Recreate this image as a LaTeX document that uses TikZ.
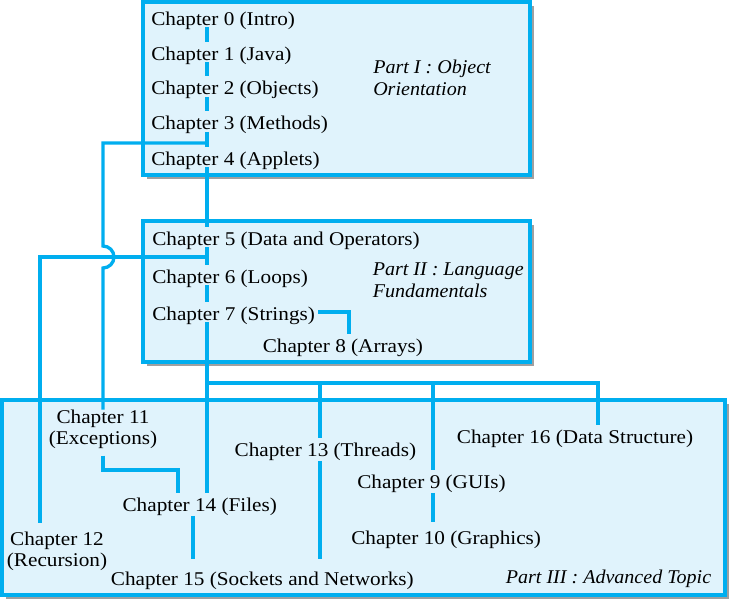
\documentclass[tikz,border=0pt]{standalone}
\usepackage{fontspec}
\setmainfont[FakeStretch=1.09,ItalicFeatures={FakeStretch=1.03}]{Liberation Serif}
\definecolor{cline}{RGB}{0,174,239}
\definecolor{cfill}{RGB}{224,243,252}
\definecolor{cshadow}{RGB}{160,160,160}
\begin{document}
\begin{tikzpicture}[x=0.75pt,y=-0.75pt,
  font=\fontsize{14.6}{15.75}\selectfont,
  part/.style={draw=cline,line width=2.5pt,fill=cfill},
  shadowbox/.style={fill=cshadow},
  chap/.style={inner sep=0pt,text height=13.5pt,text depth=1.5pt,anchor=base west},
  chaptwo/.style={inner sep=0pt,align=center,anchor=north},
  partlabel/.style={inner sep=0pt,align=left,anchor=north west,font=\fontsize{14.6}{16.5}\selectfont\itshape},
  link/.style={draw=cline,line width=2.5pt}]
\useasboundingbox (0,0) rectangle (732,600);
% boxes with shadows
\fill[shadowbox] (147,6) rectangle (534,179);
\draw[part] (143,2) rectangle (530,175);
\fill[shadowbox] (147,225) rectangle (534,366);
\draw[part] (143,221) rectangle (530,362);
\fill[shadowbox] (6,404) rectangle (729,599);
\draw[part] (2,400) rectangle (725,595);
% Part I
\node[chap] (ch0) at (151,25) {Chapter 0 (Intro)};
\node[chap] (ch1) at (151,60) {Chapter 1 (Java)};
\node[chap] (ch2) at (151,94.5) {Chapter 2 (Objects)};
\node[chap] (ch3) at (151,129.5) {Chapter 3 (Methods)};
\node[chap] (ch4) at (151,165) {Chapter 4 (Applets)};
\node[partlabel] (p1) at (373,59.7) {Part I : Object\\Orientation};
% Part II
\node[chap] (ch5) at (152,245) {Chapter 5 (Data and Operators)};
\node[chap] (ch6) at (152,283) {Chapter 6 (Loops)};
\node[chap] (ch7) at (152,320) {Chapter 7 (Strings)};
\node[chap] (ch8) at (262.5,352) {Chapter 8 (Arrays)};
\node[partlabel] (p2) at (372.5,262.7) {Part II : Language\\Fundamentals};
% Part III
\node[chaptwo] (ch11) at (103,409.7) {Chapter 11\\(Exceptions)};
\node[chaptwo] (ch12) at (57,531.7) {Chapter 12\\(Recursion)};
\node[chap] (ch13) at (234.4,456) {Chapter 13 (Threads)};
\node[chap] (ch14) at (122.3,511) {Chapter 14 (Files)};
\node[chap] (ch15) at (110.6,585) {Chapter 15 (Sockets and Networks)};
\node[chap] (ch16) at (456.6,443) {Chapter 16 (Data Structure)};
\node[chap] (ch9) at (357,488) {Chapter 9 (GUIs)};
\node[chap] (ch10) at (351,544) {Chapter 10 (Graphics)};
\node[chap,font=\fontsize{14.6}{15.75}\selectfont\itshape] (p3) at (505.6,583) {Part III : Advanced Topic};
% helper coordinates
\coordinate (spine) at (207,0);
\coordinate (j3) at (207,143);
\coordinate (c3) at (103,143);
\coordinate (h1) at (103,246);
\coordinate (h2) at (103,268);
\coordinate (j5) at (207,257);
\coordinate (c12) at (40,257);
\coordinate (c78) at (349,0);
\coordinate (c1114) at (178,470);
\coordinate (bus) at (207,383);
\coordinate (b13) at (320,383);
\coordinate (b9) at (433,383);
\coordinate (b16) at (598,383);
\coordinate (c1415) at (193,0);
% spine
\draw[link] (ch0.south -| spine) -- (ch1.north -| spine);
\draw[link] (ch1.south -| spine) -- (ch2.north -| spine);
\draw[link] (ch2.south -| spine) -- (ch3.north -| spine);
\draw[link] (ch3.south -| spine) -- (ch4.north -| spine);
\draw[link] (ch4.south -| spine) -- (ch5.north -| spine);
\draw[link] (ch5.south -| spine) -- (ch6.north -| spine);
\draw[link] (ch6.south -| spine) -- (ch7.north -| spine);
\draw[link] (ch7.south -| spine) -- (ch14.north -| spine);
% branches
\draw[link] (j3) -- (c3) -- (h1) .. controls (109.07,246) and (114,250.93) .. (114,257)
  .. controls (114,263.07) and (109.07,268) .. (h2) -- (ch11.north);
\draw[link,shorten >=6.5pt] (j5) -- (c12) -- (ch12.north -| c12);
\draw[link,shorten <=2pt] (ch7.east) -| (ch8.north -| c78);
\draw[link,shorten <=5pt] (ch11.south) |- (c1114) -- (ch14.north -| c1114);
\draw[link] (bus) -- (b16) -- (ch16.north -| b16);
\draw[link] (b13) -- (ch13.north -| b13);
\draw[link] (b9) -- (ch9.north -| b9);
\draw[link,shorten <=2pt,shorten >=6pt] (ch13.south -| b13) -- (ch15.north -| b13);
\draw[link,shorten <=2pt,shorten >=6pt] (ch14.south -| c1415) -- (ch15.north -| c1415);
\draw[link,shorten <=2pt,shorten >=3pt] (ch9.south -| b9) -- (ch10.north -| b9);
\end{tikzpicture}
\end{document}
